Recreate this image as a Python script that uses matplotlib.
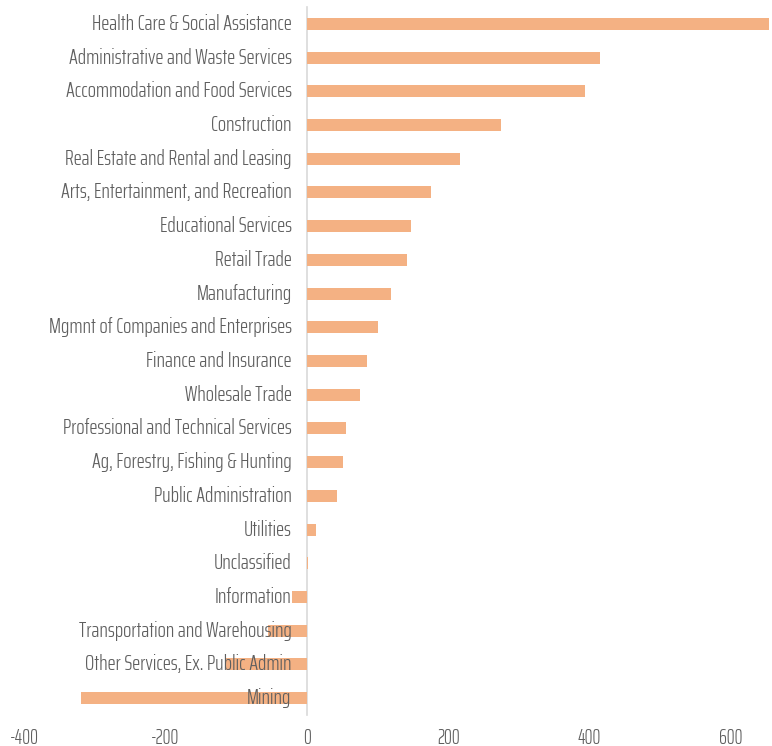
import matplotlib
matplotlib.use("Agg")
import matplotlib.pyplot as plt

categories = [
    "Health Care & Social Assistance",
    "Administrative and Waste Services",
    "Accommodation and Food Services",
    "Construction",
    "Real Estate and Rental and Leasing",
    "Arts, Entertainment, and Recreation",
    "Educational Services",
    "Retail Trade",
    "Manufacturing",
    "Mgmnt of Companies and Enterprises",
    "Finance and Insurance",
    "Wholesale Trade",
    "Professional and Technical Services",
    "Ag, Forestry, Fishing & Hunting",
    "Public Administration",
    "Utilities",
    "Unclassified",
    "Information",
    "Transportation and Warehousing",
    "Other Services, Ex. Public Admin",
    "Mining",
]
values = [654, 415, 393, 275, 217, 176, 147, 142, 119, 101, 85, 75, 55, 51, 43, 13, 1,
          -21, -55, -115, -319]
xticks = [-400, -200, 0, 200, 400, 600]

plt.rcParams['font.family'] = ['Saira ExtraCondensed', 'DejaVu Sans']
WEIGHT = 300
TXT = "#5f5f5f"

fig = plt.figure(figsize=(7.72, 7.46), dpi=100)
ax = fig.add_axes([24/772, 1 - 715/746, 746/772, 708/746])

n = len(categories)
ypos = list(range(n))
ax.barh(ypos, values, height=0.36, color="#F4B183", zorder=1)
ax.set_ylim(n - 0.5, -0.5)
ax.set_xlim(-400, 655)

for s in ['top', 'right', 'bottom']:
    ax.spines[s].set_visible(False)
ax.spines['left'].set_position(('data', 0))
ax.spines['left'].set_color('#D9D9D9')
ax.spines['left'].set_linewidth(1.2)
ax.spines['left'].set_zorder(0.5)

def style_labels(fs):
    ax.set_yticks(ypos)
    ax.set_yticklabels(categories, fontsize=fs, color=TXT, fontweight=WEIGHT)
    for lbl in ax.get_yticklabels():
        lbl.set_zorder(3)
        lbl.set_va('center')
    ax.set_xticks(xticks)
    ax.set_xticklabels([str(t) for t in xticks], fontsize=fs * 0.92,
                       color=TXT, fontweight=WEIGHT)

style_labels(13)
ax.tick_params(axis='y', length=0, pad=11)
ax.tick_params(axis='x', length=0, pad=9)

# fit the label size to the reference width of the first label (200 px)
fig.canvas.draw()
r = fig.canvas.get_renderer()
w = ax.get_yticklabels()[0].get_window_extent(r).width
style_labels(13 * 200.0 / w)

fig.savefig("out.png", dpi=100)
